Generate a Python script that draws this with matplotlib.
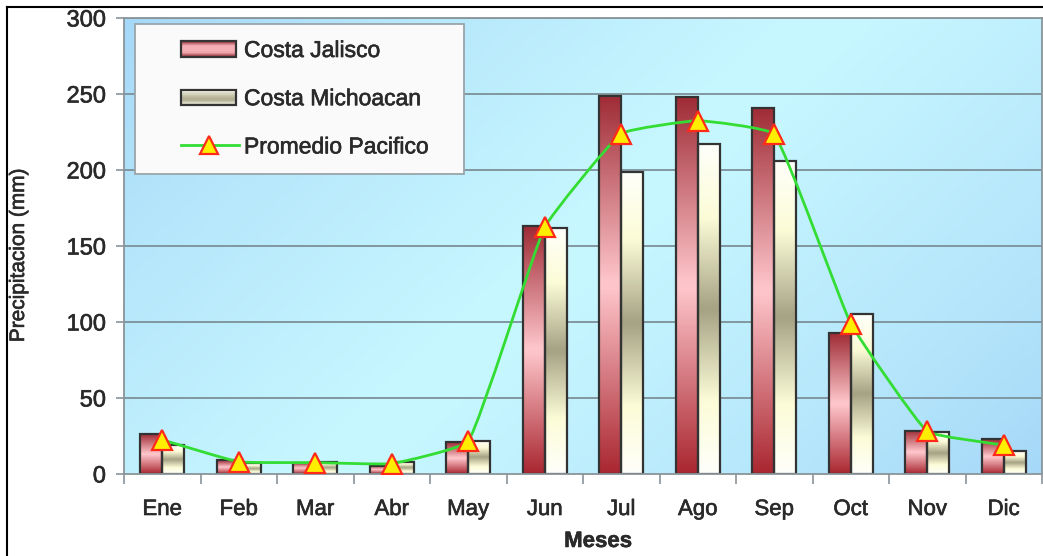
import numpy as np
import matplotlib
matplotlib.use("Agg")
import matplotlib.pyplot as plt
import matplotlib.patheffects as pe
from matplotlib.patches import Rectangle, PathPatch
from matplotlib.path import Path
from matplotlib.legend_handler import HandlerBase
from matplotlib.lines import Line2D

# Monthly precipitation (mm)
meses = ["Ene", "Feb", "Mar", "Abr", "May", "Jun", "Jul", "Ago", "Sep", "Oct", "Nov", "Dic"]
costa_jalisco = [26, 9, 7.5, 5.5, 21, 163, 249, 248, 241, 92.5, 28.5, 23]
costa_michoacan = [19, 7, 8, 8, 22, 162, 199, 217, 206, 105.5, 27.5, 15]
promedio_pacifico = [22.5, 8, 7.5, 6.8, 21.5, 162.5, 224, 232.5, 223.5, 99, 28, 19]
y_ticks = [0, 50, 100, 150, 200, 250, 300]

plt.rcParams["font.family"] = ["Liberation Sans", "DejaVu Sans"]
TXT = "#2a2a2a"
heavy = [pe.withStroke(linewidth=0.45, foreground=TXT)]

W, H = 1043, 556
fig = plt.figure(figsize=(W / 100, H / 100), dpi=100)
fig.patch.set_facecolor("white")

# outer frame (left and top edges visible)
fig.add_artist(Line2D([7 / W, 7 / W], [0, 1 - 7 / H], transform=fig.transFigure,
                      color="black", lw=1.5))
fig.add_artist(Line2D([7 / W, 1], [1 - 7 / H, 1 - 7 / H], transform=fig.transFigure,
                      color="black", lw=1.5))

AX_L, AX_B, AX_W, AX_H = 124, H - 474, 918, 456
AX_TOP = 474 - AX_H
ax = fig.add_axes([AX_L / W, AX_B / H, AX_W / W, AX_H / H])
ax.set_xlim(0, len(meses))
ax.set_ylim(0, 300)


def ax_frac(px, py):
    """Figure pixel position (from top-left) -> axes fraction."""
    return (px - AX_L) / AX_W, 1 - (py - AX_TOP) / AX_H


# plot-area background: blue corners, light cyan band across the middle
ny, nx = 200, 400
gx = np.linspace(0, 1, nx)[None, :]
gy = np.linspace(0, 1, ny)[:, None]  # 0 = top
s = (gx * 0.65 + gy * 0.35)
w = np.clip(1 - np.abs(s - 0.5) / 0.5, 0, 1) ** 0.8
blue = np.array([165, 215, 248]) / 255
light = np.array([200, 248, 255]) / 255
bg = blue[None, None, :] * (1 - w[..., None]) + light[None, None, :] * w[..., None]
ax.imshow(bg, extent=(0, 1, 0, 1), transform=ax.transAxes, aspect="auto",
          zorder=0, interpolation="bilinear")

# gridlines
for v in y_ticks[1:]:
    ax.axhline(v, color="#7d9099", lw=1.3, zorder=1)


def vgrad(stops, n=64):
    pos = np.array([p for p, _ in stops])
    cols = np.array([c for _, c in stops]) / 255.0
    t = np.linspace(0, 1, n)
    out = np.stack([np.interp(t, pos, cols[:, k]) for k in range(3)], axis=1)
    return out[:, None, :]  # row 0 = top


jal_stops = [(0, (160, 45, 55)), (0.5, (255, 200, 205)), (1, (170, 40, 50))]
mic_stops = [(0, (255, 255, 250)), (0.22, (252, 252, 215)), (0.5, (165, 162, 132)),
             (0.78, (252, 252, 215)), (1, (255, 255, 250))]
jal_img = vgrad(jal_stops)
mic_img = vgrad(mic_stops)

bw = 0.29
x = np.arange(len(meses)) + 0.5
for i in range(len(meses)):
    for off, val, img in ((-bw, costa_jalisco[i], jal_img), (0, costa_michoacan[i], mic_img)):
        x0 = x[i] + off
        ax.imshow(img, extent=(x0, x0 + bw, 0, val), aspect="auto", zorder=2,
                  interpolation="bilinear")
        ax.add_patch(Rectangle((x0, 0), bw, val, fill=False, edgecolor="#333333",
                               lw=1.6, zorder=2.5))

# lightly smoothed average line: cubic Bezier segments, tangents in pixel space
sx = AX_W / len(meses)
sy = AX_H / 300.0
P = np.column_stack([x * sx, np.array(promedio_pacifico, dtype=float) * sy])
n = len(P)
D = np.zeros_like(P)
for i in range(n):
    d = P[min(i + 1, n - 1)] - P[max(i - 1, 0)]
    D[i] = d / np.hypot(*d)
tension = 0.1
verts = [tuple(P[0])]
codes = [Path.MOVETO]
for i in range(n - 1):
    L = np.hypot(*(P[i + 1] - P[i]))
    c1 = P[i] + D[i] * L * tension
    c2 = P[i + 1] - D[i + 1] * L * tension
    verts += [tuple(c1), tuple(c2), tuple(P[i + 1])]
    codes += [Path.CURVE4] * 3
verts = [(vx / sx, vy / sy) for vx, vy in verts]
ax.add_patch(PathPatch(Path(verts, codes), fill=False, edgecolor="#33dd33", lw=2,
                       zorder=3))
ax.plot(x, promedio_pacifico, linestyle="none", marker="^", markersize=15,
        markerfacecolor="#ffee00", markeredgecolor="#ff2a1a", markeredgewidth=1.6,
        zorder=4)

# axes styling
for side in ("left", "bottom", "top", "right"):
    ax.spines[side].set_color("#8a9499")
    ax.spines[side].set_linewidth(1.3)
ax.set_yticks(y_ticks)
ax.set_yticklabels([str(v) for v in y_ticks])
ax.set_xticks(np.arange(len(meses) + 1))
ax.set_xticklabels([])
ax.set_xticks(x, minor=True)
ax.set_xticklabels(meses, minor=True)
ax.tick_params(axis="y", length=6, width=1.2, color="#8a9499", labelsize=17,
               labelcolor=TXT, pad=7)
ax.tick_params(axis="x", which="major", length=7, width=1.2, color="#8a9499")
ax.tick_params(axis="x", which="minor", length=0, labelsize=16, labelcolor=TXT, pad=18)
for t in ax.get_yticklabels() + ax.get_xticklabels(minor=True):
    t.set_path_effects(heavy)

ax.set_xlabel("Meses", fontsize=16, fontweight="bold", color=TXT)
ax.xaxis.set_label_coords(*ax_frac(598, 531))
ax.set_ylabel("Precipitacion (mm)", fontsize=15, color=TXT)
ax.yaxis.set_label_coords((28 - AX_L) / AX_W, 0.48)
ax.yaxis.label.set_path_effects(heavy)
ax.xaxis.label.set_path_effects([pe.withStroke(linewidth=0.4, foreground=TXT)])

# legend box
lx0, ly0 = ax_frac(135, 174)
lx1, ly1 = ax_frac(464, 24)
ax.add_patch(Rectangle((lx0, ly0), lx1 - lx0, ly1 - ly0, transform=ax.transAxes,
                       facecolor="#fafafa", edgecolor="#9aa4aa", lw=1.3, zorder=9))

LEFT_GAP = 20  # px of empty space before each legend key


class GradientBarHandler(HandlerBase):
    def __init__(self, stops):
        super().__init__()
        self.stops = stops

    def create_artists(self, legend, orig_handle, xdescent, ydescent, width, height,
                       fontsize, trans):
        arts = []
        nstrip = 12
        img = vgrad(self.stops, nstrip)[:, 0, :]
        x0 = -xdescent + LEFT_GAP
        wd = width - LEFT_GAP
        for k in range(nstrip):
            y0 = -ydescent + height * (1 - (k + 1) / nstrip)
            arts.append(Rectangle((x0, y0), wd, height / nstrip, facecolor=img[k],
                                  edgecolor="none", transform=trans))
        arts.append(Rectangle((x0, -ydescent), wd, height, fill=False,
                              edgecolor="#333333", lw=1.6, transform=trans))
        return arts


class OffsetLineHandler(HandlerBase):
    def create_artists(self, legend, orig_handle, xdescent, ydescent, width, height,
                       fontsize, trans):
        x0 = -xdescent + LEFT_GAP
        x1 = -xdescent + width + 2
        yc = -ydescent + height / 2
        ln = Line2D([x0, x1], [yc, yc], color="#33dd33", lw=2, transform=trans)
        mk = Line2D([x0 + (x1 - x0) * 0.48], [yc], linestyle="none", marker="^",
                    markersize=13, markerfacecolor="#ffee00", markeredgecolor="#ff2a1a",
                    markeredgewidth=1.6, transform=trans)
        return [ln, mk]


jal_leg_stops = [(0, (175, 80, 90)), (0.3, (245, 175, 180)), (0.7, (245, 175, 180)),
                 (1, (175, 80, 90))]
mic_leg_stops = [(0, (255, 255, 245)), (0.35, (200, 198, 170)), (0.7, (175, 172, 145)),
                 (1, (235, 235, 215))]
h_j = Rectangle((0, 0), 1, 1)
h_m = Rectangle((0, 0), 1, 1)
h_p = Line2D([], [])
leg = ax.legend([h_j, h_m, h_p], ["Costa Jalisco", "Costa Michoacan", "Promedio Pacifico"],
                handler_map={h_j: GradientBarHandler(jal_leg_stops),
                             h_m: GradientBarHandler(mic_leg_stops),
                             h_p: OffsetLineHandler()},
                loc="upper left", bbox_to_anchor=ax_frac(153, 39),
                fontsize=16.5, frameon=False, handlelength=3.62,
                handleheight=0.65, handletextpad=0.35, labelspacing=1.1,
                borderpad=0, borderaxespad=0)
for t in leg.get_texts():
    t.set_color(TXT)
    t.set_path_effects(heavy)
leg.set_zorder(10)

fig.savefig("out.png", dpi=100)
